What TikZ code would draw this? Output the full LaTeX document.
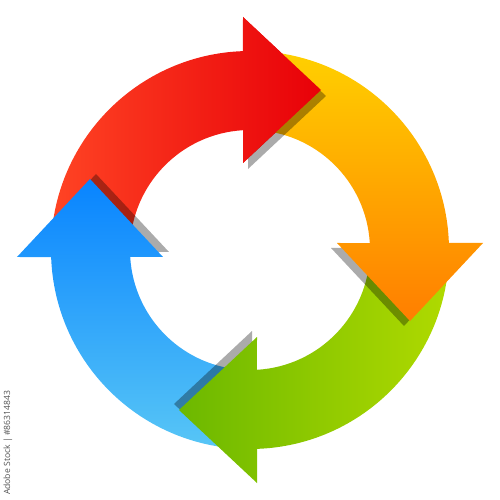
\documentclass[tikz,border=0pt]{standalone}
\usepackage{fontspec}
\usepackage{tikz}
\usetikzlibrary{calc}
\newfontfamily\stampfont{Open Sans}
\definecolor{redA}{HTML}{FF4424}
\definecolor{redB}{HTML}{E80008}
\definecolor{yelA}{HTML}{FFD000}
\definecolor{yelB}{HTML}{FF7E00}
\definecolor{grnA}{HTML}{B0DA00}
\definecolor{grnB}{HTML}{6CB800}
\definecolor{bluA}{HTML}{58C6F6}
\definecolor{bluB}{HTML}{0884FF}
\tikzset{redarr/.style={left color=redA,right color=redB},
yelarr/.style={top color=yelA,bottom color=yelB},
grnarr/.style={left color=grnB,right color=grnA},
bluarr/.style={top color=bluB,bottom color=bluA},
dropshadow/.style={fill=black,opacity=0.33}}
% one curved arrow, turned clockwise by #1 degrees
\newcommand{\cyclearrow}[1]{(178-#1:199) arc[start angle=178-#1,end angle=92.02-#1,radius=199]
 -- ([rotate=-#1]-7,233) -- ([rotate=-#1]71,160) -- ([rotate=-#1]-7,87)
 -- (93.34-#1:120) arc[start angle=93.34-#1,end angle=178-#1,radius=120] -- cycle}
\newcommand{\arrowtip}[1]{([rotate=-#1]-7,87) -- ([rotate=-#1]71,160) -- ([rotate=-#1]-7,233) -- cycle}
\newcommand{\tipshadow}[1]{([rotate=-#1]-2,81) -- ([rotate=-#1]76,154) -- ([rotate=-#1]-2,227) -- cycle}
\begin{document}
\begin{tikzpicture}[x=1pt,y=1pt]
\useasboundingbox (-250,-250) rectangle (250,250);
\shade[redarr] \cyclearrow{0};
\fill[dropshadow] \tipshadow{270};
\shade[bluarr] \cyclearrow{270};
\fill[dropshadow] \tipshadow{180};
\shade[grnarr] \cyclearrow{180};
\fill[dropshadow] \tipshadow{90};
\shade[yelarr] \cyclearrow{90};
% red head lies over the yellow tail
\fill[dropshadow] \tipshadow{0};
\begin{scope}
\clip \arrowtip{0};
\shade[redarr] \cyclearrow{0};
\end{scope}
\node[rotate=90,text=black!68,font=\stampfont\fontsize{8.6}{10}\selectfont,inner sep=0pt] (stamp) at (-242,-193) {Adobe Stock | \#86314843};
\end{tikzpicture}
\end{document}
